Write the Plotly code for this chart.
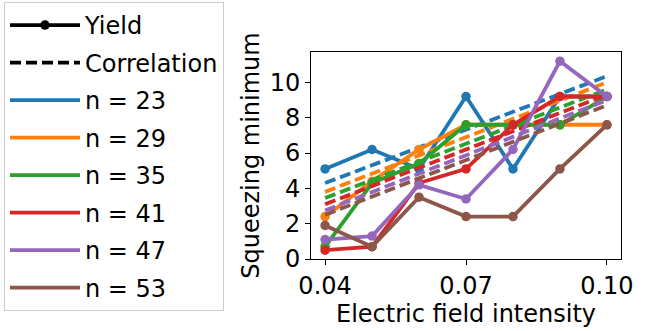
import plotly.graph_objects as go

# ---- data ----
x_vals = [0.04, 0.05, 0.06, 0.07, 0.08, 0.09, 0.10]
labels = ["n = 23", "n = 29", "n = 35", "n = 41", "n = 47", "n = 53"]
yield_n23 = [5.1, 6.2, 5.1, 9.2, 5.1, 9.2, 9.2]
yield_n29 = [2.4, 4.4, 6.2, 7.6, 7.6, 7.6, 7.6]
yield_n35 = [0.7, 4.3, 5.4, 7.6, 7.6, 7.6, 9.2]
yield_n41 = [0.5, 0.7, 4.3, 5.1, 7.6, 9.2, 9.2]
yield_n47 = [1.1, 1.3, 4.2, 3.4, 6.2, 11.2, 9.2]
yield_n53 = [1.9, 0.7, 3.5, 2.4, 2.4, 5.1, 7.6]
corr_x = [0.04, 0.10]
corr_start = [4.3, 3.8, 3.45, 3.1, 2.75, 2.5]
corr_end = [10.35, 10.0, 9.6, 9.3, 9.0, 8.7]
x_ticks = [0.04, 0.07, 0.10]
x_tick_text = ["0.04", "0.07", "0.10"]
y_ticks = [0, 2, 4, 6, 8, 10]

colors = ["#1f77b4", "#ff7f0e", "#2ca02c", "#d62728", "#9467bd", "#8c564b"]
yields = [yield_n23, yield_n29, yield_n35, yield_n41, yield_n47, yield_n53]

FONT = "DejaVu Sans"
LW = 3.8
MS = 9.5
DASH = "11px,5px"

fig = go.Figure()

# legend-only entries
fig.add_trace(go.Scatter(x=[None], y=[None], mode="lines+markers", name="Yield",
                         line=dict(color="black", width=LW), marker=dict(size=MS, color="black"),
                         legendgroup="g_yield"))
fig.add_trace(go.Scatter(x=[None], y=[None], mode="lines", name="Correlation",
                         line=dict(color="black", width=LW, dash=DASH),
                         legendgroup="g_corr"))
for lab, c in zip(labels, colors):
    fig.add_trace(go.Scatter(x=[None], y=[None], mode="lines", name=lab,
                             line=dict(color=c, width=LW), legendgroup="g_" + lab))

# data traces
for lab, c, yv, cs, ce in zip(labels, colors, yields, corr_start, corr_end):
    fig.add_trace(go.Scatter(x=x_vals, y=yv, mode="lines+markers",
                             line=dict(color=c, width=LW), marker=dict(size=MS, color=c),
                             showlegend=False, hoverinfo="skip"))
    fig.add_trace(go.Scatter(x=corr_x, y=[cs, ce], mode="lines",
                             line=dict(color=c, width=LW, dash=DASH),
                             showlegend=False, hoverinfo="skip"))

fig.update_layout(
    width=645, height=331,
    margin=dict(l=311, r=13, t=52, b=70),
    paper_bgcolor="white", plot_bgcolor="white",
    font=dict(family=FONT, size=24, color="black"),
    legend=dict(xref="container", yref="container",
                x=4 / 645, y=1 - 2 / 331, xanchor="left", yanchor="top",
                maxheight=1,
                bgcolor="rgba(255,255,255,0.8)", bordercolor="#cccccc", borderwidth=1,
                font=dict(family=FONT, size=24, color="black"),
                traceorder="grouped", tracegroupgap=3.3, itemwidth=70,
                entrywidth=150, entrywidthmode="pixels"),
    xaxis=dict(range=[0.037, 0.103], tickvals=x_ticks, ticktext=x_tick_text,
               showgrid=False, zeroline=False, showline=True, mirror=True,
               linecolor="black", linewidth=1, ticks="outside", ticklen=5,
               tickwidth=1, tickcolor="black",
               title=dict(text="Electric field intensity", standoff=2,
                          font=dict(family=FONT, size=24))),
    yaxis=dict(range=[0, 11.72], tickvals=y_ticks,
               showgrid=False, zeroline=False, showline=True, mirror=True,
               linecolor="black", linewidth=1, ticks="outside", ticklen=5,
               tickwidth=1, tickcolor="black",
               title=dict(text="Squeezing minimum", standoff=3,
                          font=dict(family=FONT, size=24))),
)

fig.write_html("out.html", config={"displayModeBar": False},
               post_script="document.body.style.margin='0';")
